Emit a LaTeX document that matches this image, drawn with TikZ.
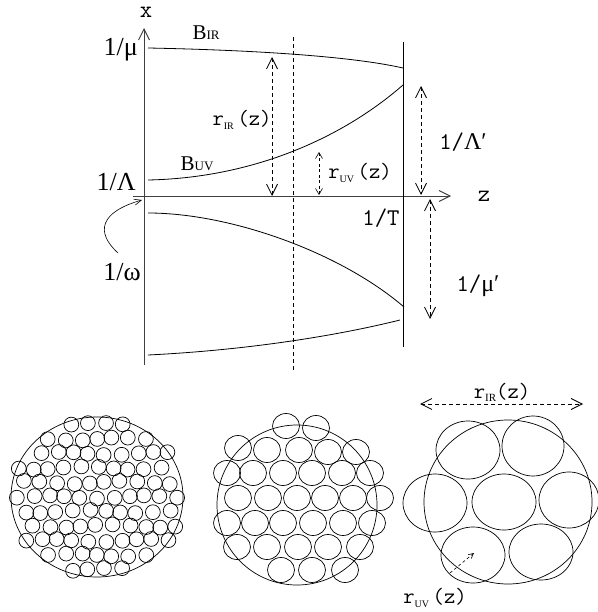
\documentclass[tikz,border=0pt]{standalone}
\usepackage{fontspec}
\setmainfont{Liberation Serif}
\usetikzlibrary{arrows.meta}
\begin{document}
\begin{tikzpicture}[x=1pt,y=-1pt,
  ln/.style={line width=0.8pt,black},
  ax/.style={line width=0.9pt,black!75,-{Straight Barb[length=11pt,width=11pt]}},
  dsh/.style={line width=0.8pt,dash pattern=on 4pt off 3pt},
  darr/.style={dsh,{Straight Barb[length=11pt,width=11pt]}-{Straight Barb[length=11pt,width=11pt]}},
  sdarr/.style={line width=0.6pt,dash pattern=on 3pt off 2.5pt,{Straight Barb[length=6pt,width=7pt]}-{Straight Barb[length=6pt,width=7pt]}},
  tm/.style={inner sep=0pt,font=\fontsize{26}{26}\selectfont},
  cr/.style={inner sep=0pt,font=\ttfamily\fontsize{24}{24}\selectfont},
  crs/.style={inner sep=0pt,font=\ttfamily\fontsize{22}{22}\selectfont},
  circ/.style={line width=0.7pt}]
\useasboundingbox (0,0) rectangle (597,612);
% axes
\coordinate (xb) at (144,365); \coordinate (xt) at (144,28);
\coordinate (zl) at (133,196); \coordinate (zr) at (451,196);
\draw[ax] (xb) -- (xt);
\draw[ax] (zl) -- (zr);
\node[cr] (xl) at (146,12) {x};
\node[cr] (zlab) at (484,196) {z};
% verticals
\coordinate (d1) at (293,37); \coordinate (d2) at (293,370);
\draw[dsh,line width=0.7pt] (d1) -- (d2);
\coordinate (s1) at (403,42); \coordinate (s2) at (403,347);
\draw[ln] (s1) -- (s2);
% curves
\coordinate (a0) at (148,48); \coordinate (a1) at (403,68);
\draw[ln] (a0) .. controls (250,50) and (350,56) .. (a1);
\coordinate (b0) at (148,180); \coordinate (b1) at (403,85);
\draw[ln] (b0) .. controls (250,178) and (340,140) .. (b1);
\coordinate (c0) at (148,213); \coordinate (c1) at (404,307);
\draw[ln] (c0) .. controls (230,213) and (340,252) .. (c1);
\coordinate (e0) at (148,355); \coordinate (e1) at (400,320);
\draw[ln] (e0) .. controls (250,350) and (340,335) .. (e1);
% dashed arrows
\coordinate (r1) at (272,57); \coordinate (r2) at (272,196);
\draw[darr] (r1) -- (r2);
\coordinate (u1) at (319,152); \coordinate (u2) at (319,195);
\draw[sdarr] (u1) -- (u2);
\coordinate (l1) at (421,86); \coordinate (l2) at (421,195);
\draw[darr] (l1) -- (l2);
\coordinate (m1) at (430,199); \coordinate (m2) at (430,319);
\draw[darr] (m1) -- (m2);
% labels
\node[tm,anchor=east] (mu) at (138,50) {1/μ};
\node[tm,anchor=east] (lam) at (136,182) {1/Λ};
\node[tm,anchor=east] (om) at (141,272) {1/ω};
\coordinate (w0) at (118,253); \coordinate (w1) at (142,200);
\draw[line width=0.6pt,-{Straight Barb[length=7pt,width=6pt]}] (w0) .. controls (95,232) and (100,212) .. (w1);
\node[tm,font=\fontsize{21}{21}\selectfont] (bir) at (206,33) {B{\fontsize{13}{13}\selectfont IR}};
\node[tm,font=\fontsize{21}{21}\selectfont] (buv) at (197,164) {B{\fontsize{13}{13}\selectfont UV}};
\node[crs] (rir) at (242,120) {r\raisebox{-4pt}{\rmfamily\fontsize{10}{10}\selectfont IR}\,(z)};
\node[crs] (ruv) at (360,173) {r\raisebox{-4pt}{\rmfamily\fontsize{10}{10}\selectfont UV}\,(z)};
\node[cr] (lp) at (463,142) {1/{\rmfamily Λ′}};
\node[cr] (tt) at (381,218) {1/T};
\node[cr] (mp) at (478,286) {1/{\rmfamily μ′}};
% ---- bottom left: many small circles
\draw[circ] (97,497) ellipse[x radius=86,y radius=80];
\foreach \j in {-5,...,5}{
  \foreach \i in {-6,...,6}{
    \pgfmathsetmacro\px{\i*16+8*mod(abs(\j),2)+1.8*sin(\i*73+\j*137)}
    \pgfmathsetmacro\py{\j*14.5+1.6*cos(\i*59-\j*113)}
    \pgfmathsetmacro\q{(\px/86)^2+(\py/80)^2}
    \ifdim\q pt<1.0pt \draw[circ] (97+\px,497+\py) circle[radius=7.4]; \fi
  }}
% ---- bottom middle
\draw[circ] (297,505) circle[radius=80];
\foreach \p in {(286,426),(316,428),
  (238,448),(267,450),(299,450),(328,452),(356,452),
  (227,473),(253,473),(283,473),(312,473),(342,473),(370,473),
  (238,498),(268,498),(297,498),(325,498),(353,498),(380,498),
  (227,523),(255,523),(283,523),(313,523),(343,523),(372,523),
  (237,547),(267,547),(298,547),(328,547),(360,547),
  (281,570),(312,570),(345,570)}
  \draw[circ] \p ellipse[x radius=13.5,y radius=12.5];
% ---- bottom right
\draw[circ] (508,502) ellipse[x radius=84,y radius=82];
\draw[circ] (468,450) ellipse[x radius=32,y radius=29];
\draw[circ] (533,446) ellipse[x radius=31,y radius=30];
\draw[circ] (435,503) ellipse[x radius=32,y radius=29];
\draw[circ] (504,502) ellipse[x radius=32,y radius=28];
\draw[circ] (569,500) ellipse[x radius=30,y radius=28];
\draw[circ] (473,555) ellipse[x radius=32,y radius=28];
\draw[circ] (541,552) ellipse[x radius=32,y radius=28];
\coordinate (h1) at (420,404); \coordinate (h2) at (583,404);
\draw[darr] (h1) -- (h2);
\node[crs] (rir2) at (502,392) {r\raisebox{-3pt}{\rmfamily\fontsize{11}{11}\selectfont IR}(z)};
\coordinate (g1) at (450,573); \coordinate (g2) at (474,553);
\draw[line width=0.6pt,dash pattern=on 3pt off 2.5pt,-{Straight Barb[length=5pt,width=5pt]}] (g1) -- (g2);
\node[crs] (ruv2) at (435,598) {r\raisebox{-4pt}{\rmfamily\fontsize{10}{10}\selectfont UV}\,(z)};
\end{tikzpicture}
\end{document}
